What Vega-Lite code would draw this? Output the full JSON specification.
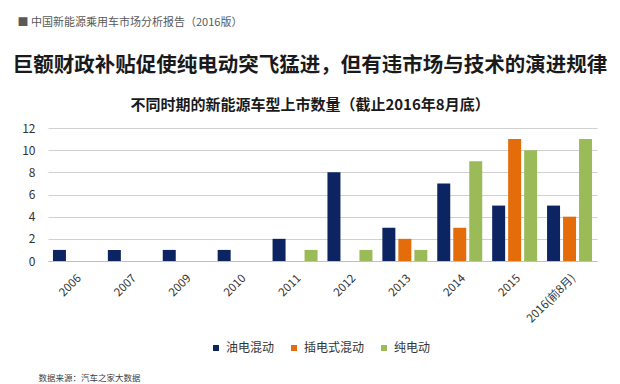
{
  "$schema": "https://vega.github.io/schema/vega-lite/v6.json",
  "width": 549,
  "height": 133,
  "autosize": {"type": "none"},
  "padding": {"left": 48, "top": 128, "right": 23, "bottom": 123},
  "background": "white",
  "config": {
    "font": "Noto Sans CJK SC",
    "view": {"stroke": null}
  },
  "title": {
    "text": "巨额财政补贴促使纯电动突飞猛进，但有违市场与技术的演进规律",
    "subtitle": "不同时期的新能源车型上市数量（截止2016年8月底）",
    "anchor": "middle",
    "frame": "group",
    "dx": -12.5,
    "offset": -97,
    "fontSize": 20.5,
    "fontWeight": "bold",
    "color": "#1a1a1a",
    "subtitleFontSize": 15,
    "subtitleFontWeight": "bold",
    "subtitleColor": "#1a1a1a",
    "subtitlePadding": 22
  },
  "data": {
    "values": [
      {"year": "2006", "type": "油电混动", "count": 1},
      {"year": "2006", "type": "插电式混动", "count": 0},
      {"year": "2006", "type": "纯电动", "count": 0},
      {"year": "2007", "type": "油电混动", "count": 1},
      {"year": "2007", "type": "插电式混动", "count": 0},
      {"year": "2007", "type": "纯电动", "count": 0},
      {"year": "2009", "type": "油电混动", "count": 1},
      {"year": "2009", "type": "插电式混动", "count": 0},
      {"year": "2009", "type": "纯电动", "count": 0},
      {"year": "2010", "type": "油电混动", "count": 1},
      {"year": "2010", "type": "插电式混动", "count": 0},
      {"year": "2010", "type": "纯电动", "count": 0},
      {"year": "2011", "type": "油电混动", "count": 2},
      {"year": "2011", "type": "插电式混动", "count": 0},
      {"year": "2011", "type": "纯电动", "count": 1},
      {"year": "2012", "type": "油电混动", "count": 8},
      {"year": "2012", "type": "插电式混动", "count": 0},
      {"year": "2012", "type": "纯电动", "count": 1},
      {"year": "2013", "type": "油电混动", "count": 3},
      {"year": "2013", "type": "插电式混动", "count": 2},
      {"year": "2013", "type": "纯电动", "count": 1},
      {"year": "2014", "type": "油电混动", "count": 7},
      {"year": "2014", "type": "插电式混动", "count": 3},
      {"year": "2014", "type": "纯电动", "count": 9},
      {"year": "2015", "type": "油电混动", "count": 5},
      {"year": "2015", "type": "插电式混动", "count": 11},
      {"year": "2015", "type": "纯电动", "count": 10},
      {"year": "2016(前8月)", "type": "油电混动", "count": 5},
      {"year": "2016(前8月)", "type": "插电式混动", "count": 4},
      {"year": "2016(前8月)", "type": "纯电动", "count": 11}
    ]
  },
  "mark": {"type": "bar"},
  "encoding": {
    "x": {
      "field": "year",
      "type": "nominal",
      "sort": null,
      "scale": {"paddingInner": 0, "paddingOuter": 0},
      "axis": {
        "title": "数据来源：汽车之家大数据",
        "titleFontSize": 8.5,
        "titleFontWeight": "normal",
        "titleColor": "#404040",
        "titleAnchor": "start",
        "titleAlign": "left",
        "titleBaseline": "middle",
        "titleX": -10,
        "titleY": 116,
        "labelAngle": -45,
        "labelAlign": "right",
        "labelBaseline": "top",
        "labelFontSize": 11.5,
        "labelColor": "#333333",
        "labelPadding": 11,
        "ticks": false,
        "domainColor": "#bfbfbf",
        "domainWidth": 1,
        "grid": false
      }
    },
    "xOffset": {
      "field": "type",
      "type": "nominal",
      "scale": {"domain": ["油电混动", "插电式混动", "纯电动"], "paddingInner": 0.1875, "paddingOuter": 0.31}
    },
    "y": {
      "field": "count",
      "type": "quantitative",
      "scale": {"domain": [0, 12], "nice": false},
      "axis": {
        "values": [0, 2, 4, 6, 8, 10, 12],
        "title": "■    中国新能源乘用车市场分析报告（2016版）",
        "titleAngle": 0,
        "titleAlign": "left",
        "titleBaseline": "middle",
        "titleFontSize": 11,
        "titleFontWeight": "normal",
        "titleColor": "#595959",
        "titleX": -31,
        "titleY": -106,
        "labelFontSize": 12,
        "labelColor": "#333333",
        "labelPadding": 13,
        "ticks": false,
        "domain": false,
        "gridColor": "#d0d0d0",
        "gridWidth": 1
      }
    },
    "color": {
      "field": "type",
      "type": "nominal",
      "scale": {"domain": ["油电混动", "插电式混动", "纯电动"], "range": ["#0c2461", "#e46c0a", "#9bbb59"]},
      "legend": {
        "title": null,
        "orient": "none",
        "direction": "horizontal",
        "legendX": 162,
        "legendY": 214,
        "symbolType": "square",
        "symbolSize": 36,
        "symbolStrokeWidth": 0,
        "labelFontSize": 12,
        "labelColor": "#333333",
        "labelOffset": 4,
        "columnPadding": 13
      }
    }
  }
}
